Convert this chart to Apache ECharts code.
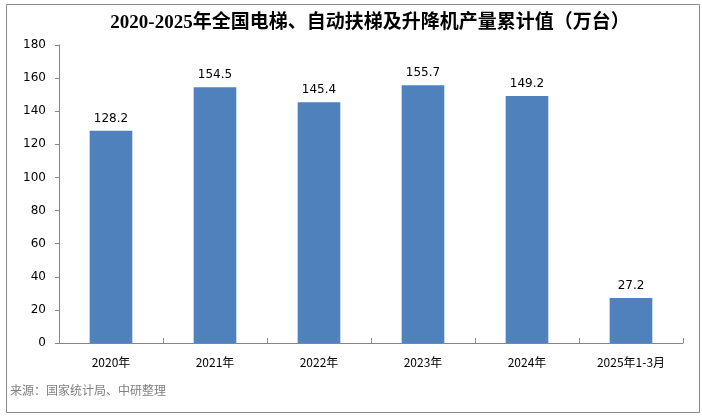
<!DOCTYPE html>
<html><head><meta charset="utf-8">
<script src="https://cdn.jsdelivr.net/npm/echarts@6/dist/echarts.min.js"></script>
<style>html,body{margin:0;padding:0;background:#fff}#c{width:702px;height:417px}</style>
</head><body><div id="c"></div>
<script>
const categories = ['2020年','2021年','2022年','2023年','2024年','2025年1-3月'];
const values = [128.2, 154.5, 145.4, 155.7, 149.2, 27.2];
const yTicks = [0,20,40,60,80,100,120,140,160,180];
const titleText = '2020-2025年全国电梯、自动扶梯及升降机产量累计值（万台）';
const sourceText = '来源：国家统计局、中研整理';

const chart = echarts.init(document.getElementById('c'), null, {renderer:'canvas'});
chart.setOption({
  animation:false,
  backgroundColor:'#fff',
  graphic:[
    {type:'rect', left:4, top:2, shape:{width:693, height:408}, style:{fill:'none', stroke:'#8c8c8c', lineWidth:1}, z:-1},
    {type:'text', x:370, y:23, style:{text:titleText, align:'center', verticalAlign:'middle', fill:'#000', font:'bold 19px "Liberation Serif","Noto Sans CJK SC",serif'}},
    {type:'text', left:10, top:384, style:{text:sourceText, fill:'#808080', font:'12px "Noto Sans CJK SC", sans-serif'}}
  ],
  grid:{left:59, right:19, top:45, bottom:74, containLabel:false},
  xAxis:{
    type:'category', data:categories,
    axisLine:{lineStyle:{color:'#868686'}},
    axisTick:{show:true, inside:true, length:5, interval:0, lineStyle:{color:'#868686'}},
    axisLabel:{color:'#000', fontSize:12, margin:13, fontFamily:'"Noto Sans CJK SC", sans-serif', interval:0}
  },
  yAxis:{
    type:'value', min:yTicks[0], max:yTicks[yTicks.length-1], interval:20,
    axisLine:{show:true, lineStyle:{color:'#868686'}},
    axisTick:{show:true, length:4, lineStyle:{color:'#868686'}},
    splitLine:{show:false},
    axisLabel:{color:'#000', fontSize:12, margin:13, fontFamily:'"DejaVu Sans", sans-serif'}
  },
  series:[{
    type:'bar', data:values, barWidth:'41%',
    itemStyle:{color:'#4F81BD'},
    label:{show:true, position:'top', distance:6, color:'#000', fontSize:12, fontFamily:'"DejaVu Sans", sans-serif'}
  }]
});
</script></body></html>
